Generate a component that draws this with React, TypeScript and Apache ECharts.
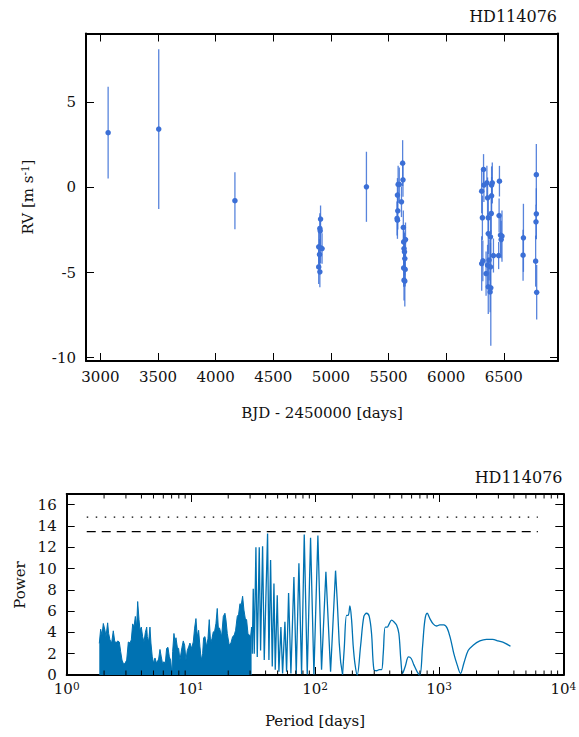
import React, { useEffect, useRef } from 'react';
import * as echarts from 'echarts';

// ---------- Top panel: RV time series ----------
const rvTime = [
  3067, 3506, 4167,
  4910, 4904, 4907, 4894, 4910, 4923, 4901, 4894, 4904,
  5308,
  5577, 5583, 5593, 5580, 5574, 5577, 5612, 5622, 5625, 5628, 5631, 5647, 5634, 5638, 5641, 5631, 5644, 5634, 5641,
  6308, 6324, 6314, 6308, 6318, 6327, 6353, 6359, 6365, 6346, 6365, 6359, 6372, 6365, 6381, 6384, 6391, 6394, 6400, 6394, 6384, 6410, 6387,
  6462, 6459, 6455, 6471, 6477, 6484,
  6670, 6667,
  6779, 6782, 6776, 6782, 6785,
];
const rvValue = [
  3.22, 3.43, -0.78,
  -1.86, -2.41, -2.55, -3.49, -3.55, -3.59, -3.94, -4.67, -4.96,
  0.04,
  -0.45, 0.18, 0.18, -1.37, -1.82, -1.92, -0.84, 1.43, 0.45, -2.35, -3.2, -3.06, -3.59, -3.78, -4.18, -4.73, -4.82, -5.45, -5.5,
  -0.22, 1.06, -1.78, -4.47, -4.31, 0.14, 0.27, -0.61, -1.78, -5.06, -5.84, -4.57, -4.27, -2.71, -6.14, -2.9, -1.53, 0.14, 0.27, -0.49, -4.67, -4.0, -5.9,
  0.37, -1.65, -4.0, -2.8, -3.06, -2.86,
  -2.96, -3.98,
  -2.02, -1.55, -4.33, 0.75, -6.16,
];
const rvError = [
  2.7, 4.69, 1.67,
  0.8, 0.9, 0.9, 1.0, 0.9, 0.9, 0.9, 1.0, 0.9,
  2.06,
  1.0, 1.1, 1.0, 1.1, 1.0, 1.1, 0.9, 1.35, 1.0, 1.0, 1.0, 1.0, 1.0, 1.1, 1.0, 1.1, 1.0, 1.2, 1.5,
  1.3, 0.9, 1.3, 1.6, 1.2, 1.0, 1.0, 1.2, 1.1, 1.3, 1.6, 1.2, 1.2, 1.2, 1.2, 1.2, 1.2, 1.1, 1.2, 1.1, 1.4, 1.0, 3.4,
  0.9, 1.0, 0.8, 1.1, 1.1, 1.5,
  2.0, 1.5,
  1.0, 1.5, 1.5, 1.8, 1.6,
];

// ---------- Bottom panel: periodogram ----------
// dense short-period part (envelope of the unresolved oscillations)
const densePeriod = [
  1.83, 1.877, 1.925, 1.972, 2.034, 2.072, 2.137, 2.177, 2.231, 2.301, 2.373, 2.435, 2.496, 2.574, 2.653, 2.721,
  2.789, 2.876, 2.948, 3.042, 3.136, 3.234, 3.314, 3.40, 3.485, 3.572, 3.66, 3.73, 3.823, 3.894, 3.99, 4.09,
  4.194, 4.30, 4.41, 4.46, 4.57, 4.685, 4.77, 4.89, 5.015, 5.14, 5.30, 5.50, 5.64, 5.78, 5.93, 6.07,
  6.225, 6.38, 6.54, 6.71, 6.87, 7.04, 7.135, 7.31, 7.45, 7.59, 7.78, 7.97, 8.17, 8.48, 8.69, 8.91,
  9.13, 9.36, 9.60, 9.83, 10.14, 10.46, 10.72, 10.99, 11.27, 11.55, 11.84, 12.13, 12.44, 12.67, 12.99, 13.40,
  13.73, 14.07, 14.43, 14.79, 15.16, 15.54, 15.93, 16.32, 16.63, 17.04, 17.69, 18.25, 18.82, 19.17, 19.65, 20.38,
  21.03, 21.69, 22.37, 22.93, 23.65, 24.25, 24.85, 25.47, 26.12, 26.77, 27.44, 28.12, 28.83, 29.55, 30.28, 30.85,
];
const densePower = [
  2.97, 4.3, 3.75, 4.84, 4.2, 3.6, 4.9, 3.9, 3.3, 3.0, 4.15, 3.2, 3.0, 3.2, 3.1, 2.2,
  1.4, 1.0, 1.1, 1.4, 3.1, 3.0, 3.3, 4.8, 4.5, 5.5, 4.5, 6.9, 5.2, 4.2, 4.5, 3.6,
  3.1, 4.0, 4.5, 3.6, 3.1, 4.5, 3.0, 1.7, 1.1, 1.6, 1.1, 1.5, 2.4, 1.7, 1.0, 1.25,
  1.1, 2.5, 2.6, 1.7, 1.4, 0.15, 2.2, 3.9, 3.1, 3.5, 2.6, 2.5, 1.4, 2.6, 3.2, 2.8,
  1.4, 2.3, 2.65, 3.0, 2.5, 3.1, 4.4, 5.3, 3.6, 4.2, 2.65, 1.4, 2.0, 3.5, 3.6, 2.65,
  3.4, 5.2, 3.0, 3.4, 4.05, 4.1, 4.85, 6.25, 4.5, 4.4, 3.6, 5.5, 5.8, 5.2, 3.9, 2.8,
  3.0, 3.6, 3.75, 4.2, 5.5, 5.7, 6.7, 6.6, 7.4, 6.1, 5.3, 5.2, 3.9, 3.75, 3.6, 4.5,
];
// resolved spikes
const spikePeriod = [
  30.85, 31.24, 31.82, 32.41, 33.43, 34.27, 35.56, 36.45, 37.83, 39.01, 41.5, 42.54, 43.88, 45.26, 46.7, 47.84,
  49.65, 51.2, 53.14, 54.82, 57.24, 59.04, 61.27, 63.97, 67.62, 70.62, 74.2, 77.97, 81.92, 86.6, 92.1, 98,
  105.5, 112.9, 122.4, 133.5, 146.4, 151, 156.7, 161, 166.7,
];
const spikePower = [
  4.5, 2.0, 8.1, 2.0, 12.0, 1.7, 12.0, 2.3, 12.1, 1.4, 13.3, 1.4, 10.8, 0.8, 8.6, 0.5,
  7.5, 0.3, 4.5, 0.15, 5.0, 0.3, 7.7, 0.15, 9.2, 0.1, 10.5, 0.1, 13.2, 0.05, 12.9, 0.05,
  13.1, 0.5, 9.7, 0.3, 9.8, 7.0, 3.0, 1.2, 0.05,
];
// long-period smooth tail
const tailPeriod = [
  166.7, 172, 179.6, 185.2, 191, 197, 203.2, 209.6, 218.8, 232.8, 247.5, 260.2, 273.3, 285.4, 298.1, 313.1,
  329, 343.6, 354.4, 367.8, 381.6, 396, 413.5, 431.8, 453.8, 473.8, 491.6, 507.1, 532.8, 566.8, 595.5, 625.7,
  665.7, 699.4, 734.9, 767.4, 801.3, 841.8, 895, 952.4, 1013, 1091, 1160, 1235, 1313, 1397, 1486, 1581,
  1713, 1879, 2127, 2406, 2690, 2988, 3381, 3755,
];
const tailPower = [
  0.05, 2.5, 5.6, 5.6, 6.5, 5.2, 2.7, 1.1, 0.0, 2.7, 5.5, 5.8, 5.5, 3.9, 0.5, 0.4,
  0.5, 0.5, 2.0, 4.5, 4.5, 4.8, 5.15, 5.0, 4.7, 3.9, 1.4, 0.15, 0.8, 1.7, 1.55, 0.95,
  0.3, 0.0, 2.65, 5.15, 5.8, 5.3, 4.8, 4.6, 4.7, 4.7, 4.4, 3.4, 2.0, 0.95, 0.15, 1.1,
  2.3, 2.8, 3.2, 3.35, 3.35, 3.2, 3.0, 2.7,
];
// false-alarm levels
const levelPeriods = [1.45, 6240];
const levelDotted = 14.82;
const levelDashed = 13.46;
// minor tick positions of the log axis
const minorTickValues = [
  2, 3, 4, 5, 6, 7, 8, 9,
  20, 30, 40, 50, 60, 70, 80, 90,
  200, 300, 400, 500, 600, 700, 800, 900,
  2000, 3000, 4000, 5000, 6000, 7000, 8000, 9000,
];

const FONT = 'DejaVu Serif';
const BLUE = '#3b6fd6';
const PG = '#0072b2';
const INK = '#111';

function zip(a: number[], b: number[]) {
  return a.map((v, i) => [v, b[i]]);
}

export default function App() {
  const ref = useRef<HTMLDivElement>(null);

  useEffect(() => {
    if (!ref.current) return;
    const chart = echarts.init(ref.current, null, { renderer: 'svg' });

    const frameLine = { onZero: false, lineStyle: { color: '#000', width: 2 } };
    const tick = (len: number) => ({ inside: true, length: len, lineStyle: { color: '#000', width: 1 } });
    const label = (margin: number) => ({
      margin,
      fontFamily: FONT,
      fontSize: 15,
      color: INK,
      showMinLabel: false,
      showMaxLabel: false,
      formatter: (v: number) => String(Math.round(v * 100) / 100),
    });
    const logLabel = {
      margin: 5,
      showMinLabel: true,
      showMaxLabel: true,
      formatter: (v: number) => `{b|10}{s|${Math.round(Math.log10(v))}}`,
      rich: {
        b: { fontFamily: FONT, fontSize: 15, color: INK, lineHeight: 18, verticalAlign: 'middle' },
        s: { fontFamily: FONT, fontSize: 10.5, color: INK, lineHeight: 18, verticalAlign: 'top' },
      },
    };

    const topX = { type: 'value', gridIndex: 0, min: 2875, max: 6970, splitNumber: 8, splitLine: { show: false } };
    const topY = { type: 'value', gridIndex: 0, min: -10.2, max: 9.05, splitNumber: 4, splitLine: { show: false } };
    const botX = { type: 'log', logBase: 10, gridIndex: 1, min: 1, max: 10000, splitLine: { show: false } };
    const botY = { type: 'value', gridIndex: 1, min: 0, max: 17, splitNumber: 8, splitLine: { show: false } };

    const option: any = {
      animation: false,
      backgroundColor: '#ffffff',
      textStyle: { fontFamily: FONT },
      grid: [
        { left: 86, top: 33.5, width: 472, height: 327.5, outerBoundsMode: 'none', containLabel: false },
        { left: 66.7, top: 494, width: 496.6, height: 181, outerBoundsMode: 'none', containLabel: false },
      ],
      xAxis: [
        { ...topX, position: 'bottom', axisLine: frameLine, axisTick: tick(8), axisLabel: label(8) },
        { ...topX, position: 'top', axisLine: frameLine, axisTick: tick(8), axisLabel: { show: false } },
        { ...botX, position: 'bottom', axisLine: frameLine, axisTick: tick(8), axisLabel: logLabel },
        { ...botX, position: 'top', axisLine: frameLine, axisTick: tick(8), axisLabel: { show: false } },
      ],
      yAxis: [
        { ...topY, position: 'left', axisLine: frameLine, axisTick: tick(8), axisLabel: label(10) },
        { ...topY, position: 'right', axisLine: frameLine, axisTick: tick(8), axisLabel: { show: false } },
        { ...botY, position: 'left', axisLine: frameLine, axisTick: tick(8), axisLabel: { ...label(10), showMinLabel: true } },
        { ...botY, position: 'right', axisLine: frameLine, axisTick: tick(8), axisLabel: { show: false } },
      ],
      series: [
        {
          type: 'custom',
          xAxisIndex: 0,
          yAxisIndex: 0,
          data: rvTime.map((t, i) => [t, rvValue[i], rvError[i]]),
          encode: { x: 0, y: 1 },
          renderItem: (params: any, api: any) => {
            const x = api.value(0);
            const y = api.value(1);
            const e = api.value(2);
            const p1 = api.coord([x, y - e]);
            const p2 = api.coord([x, y + e]);
            return {
              type: 'line',
              shape: { x1: p1[0], y1: p1[1], x2: p2[0], y2: p2[1] },
              style: { stroke: BLUE, lineWidth: 1.3, opacity: 0.85 },
            };
          },
          z: 2,
        },
        {
          type: 'scatter',
          xAxisIndex: 0,
          yAxisIndex: 0,
          data: zip(rvTime, rvValue),
          symbolSize: 5.5,
          itemStyle: { color: BLUE, opacity: 1 },
          z: 3,
        },
        {
          type: 'line',
          xAxisIndex: 2,
          yAxisIndex: 2,
          data: zip(densePeriod, densePower),
          showSymbol: false,
          lineStyle: { color: PG, width: 1 },
          areaStyle: { color: PG, opacity: 1 },
          z: 2,
        },
        {
          type: 'line',
          xAxisIndex: 2,
          yAxisIndex: 2,
          data: zip(spikePeriod, spikePower),
          showSymbol: false,
          lineStyle: { color: PG, width: 1.3 },
          z: 2,
        },
        {
          type: 'line',
          xAxisIndex: 2,
          yAxisIndex: 2,
          data: zip(tailPeriod, tailPower),
          showSymbol: false,
          smooth: 0.35,
          lineStyle: { color: PG, width: 1.3 },
          z: 2,
        },
        {
          type: 'line',
          xAxisIndex: 2,
          yAxisIndex: 2,
          data: levelPeriods.map((p) => [p, levelDotted]),
          showSymbol: false,
          lineStyle: { color: '#000', width: 1.3, type: [1.5, 7.5] },
          z: 3,
        },
        {
          type: 'line',
          xAxisIndex: 2,
          yAxisIndex: 2,
          data: levelPeriods.map((p) => [p, levelDashed]),
          showSymbol: false,
          lineStyle: { color: '#000', width: 1.3, type: [9, 6] },
          z: 3,
        },
        {
          type: 'custom',
          xAxisIndex: 2,
          yAxisIndex: 2,
          data: minorTickValues.map((v) => [v, 0]),
          encode: { x: 0, y: 1 },
          clip: false,
          renderItem: (params: any, api: any) => {
            const v = api.value(0);
            const b = api.coord([v, 0]);
            const t = api.coord([v, 17]);
            return {
              type: 'group',
              children: [
                { type: 'line', shape: { x1: b[0], y1: b[1], x2: b[0], y2: b[1] - 4.5 }, style: { stroke: '#000', lineWidth: 1 } },
                { type: 'line', shape: { x1: t[0], y1: t[1], x2: t[0], y2: t[1] + 4.5 }, style: { stroke: '#000', lineWidth: 1 } },
              ],
            };
          },
          z: 4,
        },
      ],
      graphic: [
        { type: 'text', x: 557, y: 16, style: { text: 'HD114076', fontFamily: FONT, fontSize: 16, fill: INK, align: 'right', verticalAlign: 'middle' } },
        { type: 'text', x: 562.5, y: 477, style: { text: 'HD114076', fontFamily: FONT, fontSize: 16, fill: INK, align: 'right', verticalAlign: 'middle' } },
        { type: 'text', x: 322, y: 413, style: { text: 'BJD - 2450000 [days]', fontFamily: FONT, fontSize: 15, fill: INK, align: 'center', verticalAlign: 'middle' } },
        { type: 'text', x: 315, y: 721, style: { text: 'Period [days]', fontFamily: FONT, fontSize: 15, fill: INK, align: 'center', verticalAlign: 'middle' } },
        {
          type: 'text', x: 28, y: 197, rotation: Math.PI / 2,
          style: {
            text: '{m|RV [m s}{s|-1}{m|]}',
            align: 'center', verticalAlign: 'middle',
            rich: {
              m: { fontFamily: FONT, fontSize: 15, fill: INK, lineHeight: 18, verticalAlign: 'middle' },
              s: { fontFamily: FONT, fontSize: 10.5, fill: INK, lineHeight: 18, verticalAlign: 'top' },
            },
          },
        },
        { type: 'text', x: 20, y: 585, rotation: Math.PI / 2, style: { text: 'Power', fontFamily: FONT, fontSize: 15, fill: INK, align: 'center', verticalAlign: 'middle' } },
      ],
    };

    chart.setOption(option);
    return () => chart.dispose();
  }, []);

  return <div ref={ref} style={{ position: 'absolute', left: 0, top: 0, width: 579, height: 737, background: '#fff' }} />;
}
